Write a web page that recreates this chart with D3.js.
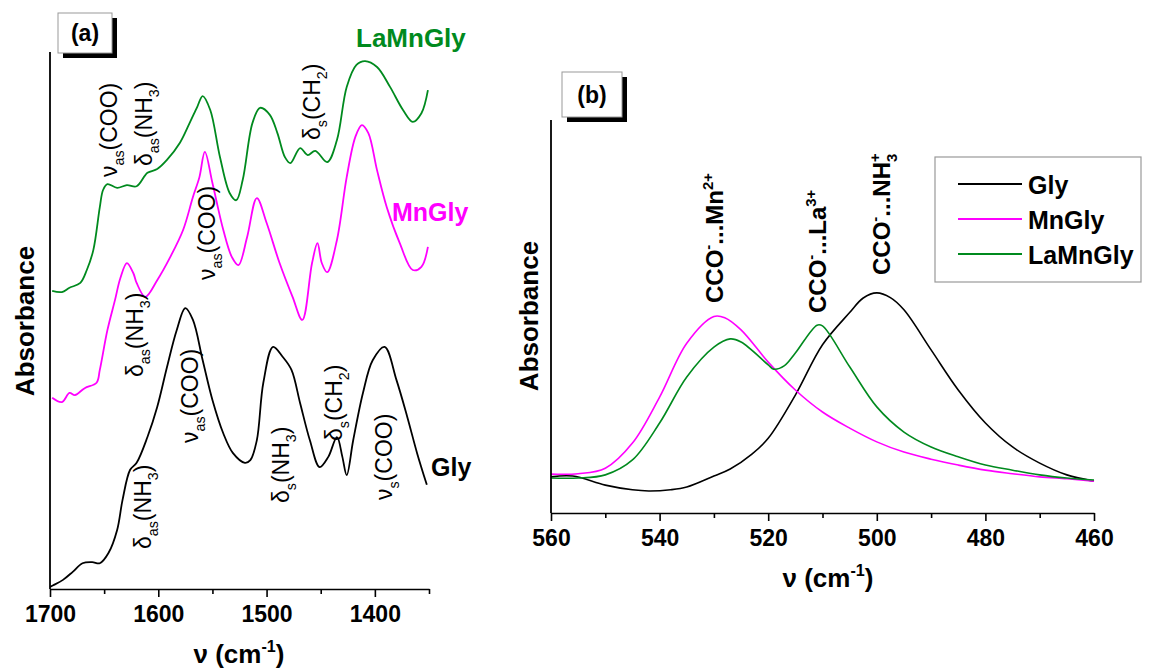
<!DOCTYPE html>
<html><head><meta charset="utf-8">
<script src="https://cdn.jsdelivr.net/npm/d3@7"></script>
<style>
html,body{margin:0;padding:0;background:#fff;}
svg{display:block;font-family:'Liberation Sans',Arial,Helvetica,sans-serif;}
</style></head>
<body>
<svg id="c" width="1153" height="669"></svg>
<script>
// ---------- Panel (a) data: FTIR 1700-1350 cm-1 (offset stacked, a.u.) ----------
const glyWaveA = [1700,1697,1688,1679,1670,1661,1654,1646,1638,1633,1626,1620,1610,1601,1592,1583,1575,1568,1559,1550,1540,1531,1520,1515,1509,1503,1494,1485,1477,1469,1460,1451,1443,1435,1430,1426,1420,1411,1402,1391,1380,1370,1361,1352];
const glyAbsA  = [0.004,0.007,0.017,0.032,0.048,0.050,0.048,0.067,0.110,0.166,0.222,0.235,0.283,0.339,0.413,0.482,0.523,0.501,0.426,0.352,0.290,0.253,0.235,0.240,0.277,0.384,0.451,0.432,0.408,0.346,0.277,0.227,0.246,0.283,0.246,0.212,0.277,0.365,0.426,0.451,0.389,0.320,0.253,0.194];

const mnWaveA = [1698,1689,1682,1677,1668,1657,1654,1647,1640,1635,1629,1623,1620,1612,1601,1589,1577,1568,1562,1557,1550,1540,1532,1526,1518,1509,1500,1488,1476,1467,1458,1453,1449,1444,1435,1426,1418,1412,1406,1398,1389,1377,1365,1357,1351];
const mnAbsA  = [0.356,0.348,0.365,0.361,0.374,0.384,0.408,0.482,0.538,0.579,0.607,0.588,0.570,0.544,0.575,0.618,0.669,0.730,0.767,0.814,0.756,0.669,0.618,0.603,0.655,0.728,0.682,0.607,0.544,0.501,0.607,0.644,0.607,0.590,0.650,0.767,0.842,0.864,0.849,0.780,0.711,0.644,0.594,0.600,0.637];

const laWaveA = [1698,1689,1682,1672,1666,1660,1654,1651,1647,1638,1629,1620,1610,1601,1592,1580,1571,1564,1559,1552,1543,1534,1528,1522,1513,1506,1497,1490,1483,1478,1469,1462,1455,1444,1435,1426,1417,1409,1398,1386,1374,1365,1357,1351];
const laAbsA  = [0.555,0.553,0.561,0.570,0.594,0.631,0.711,0.743,0.754,0.747,0.752,0.750,0.775,0.782,0.799,0.831,0.868,0.898,0.918,0.892,0.804,0.737,0.724,0.762,0.868,0.896,0.883,0.849,0.804,0.793,0.821,0.808,0.816,0.795,0.836,0.935,0.976,0.983,0.972,0.935,0.892,0.870,0.886,0.929];

const ticksA = [1700,1600,1500,1400];
const minorTicksA = [1650,1550,1450,1350];

// ---------- Panel (b) data: 560-460 cm-1 ----------
const glyWaveB = [560,556,550,545,542,538,535,530,527,523,520,515,510,505,502.5,500,497.5,495,490,485,480,475,470,465,460];
const glyAbsB  = [0.092,0.094,0.071,0.059,0.056,0.059,0.066,0.094,0.112,0.150,0.190,0.300,0.428,0.510,0.547,0.560,0.548,0.517,0.415,0.313,0.229,0.168,0.127,0.097,0.081];

const mnWaveB = [560,555,550,545,540,535,530,528,525,520,515,510,505,500,495,490,485,480,475,470,465,460];
const mnAbsB  = [0.099,0.100,0.114,0.178,0.295,0.432,0.500,0.497,0.466,0.384,0.313,0.257,0.216,0.181,0.155,0.137,0.122,0.109,0.100,0.092,0.087,0.081];

const laWaveB = [560,555,550,545,540,535,530,527,525,520,519,517,515,511,510,505,500,495,490,485,480,475,470,465,460];
const laAbsB  = [0.089,0.089,0.097,0.135,0.229,0.346,0.422,0.443,0.435,0.377,0.366,0.375,0.407,0.478,0.476,0.372,0.270,0.206,0.168,0.143,0.122,0.109,0.097,0.089,0.084];

const ticksB = [560,540,520,500,480,460];
const minorTicksB = [550,530,510,490,470];

const seriesNames = ["Gly","MnGly","LaMnGly"];
const seriesColors = ["#000000","#ff00ff","#008a1e"];

// ---------- drawing ----------
const svg = d3.select("#c");
const FF = "'Liberation Sans',Arial,Helvetica,sans-serif";

function rich(sel, parts, fs){
  let cur = 0;
  parts.forEach(p=>{
    const txt=p[0], kind=p[1]||"", dx=p[2]||0;
    const target = kind==="sub" ? 0.30*fs : kind==="sup" ? -0.42*fs : 0;
    const t = sel.append("tspan").text(txt).attr("dy", target-cur);
    if(kind) t.attr("font-size", fs*0.62);
    if(dx) t.attr("dx", dx*fs);
    cur = target;
  });
}
function vlabel(g, x, y, parts, fs, weight, color){
  const t = g.append("text")
    .attr("transform",`translate(${x},${y}) rotate(-90)`)
    .attr("font-size",fs).attr("font-weight",weight||"normal")
    .attr("fill",color||"#000");
  rich(t, parts, fs);
  return t;
}
function panelTag(g, x, y, w, h, label){
  g.append("rect").attr("x",x+5).attr("y",y+5).attr("width",w).attr("height",h).attr("fill","#000");
  g.append("rect").attr("x",x).attr("y",y).attr("width",w).attr("height",h).attr("fill","#fff").attr("stroke","#999").attr("stroke-width",1);
  g.append("text").attr("x",x+w/2).attr("y",y+h/2+8).attr("text-anchor","middle")
    .attr("font-size",23).attr("font-weight","bold").text(label);
}
function xAxis(g, scale, y, major, minor){
  const ax = g.append("g").attr("transform",`translate(0,${y})`)
    .call(d3.axisBottom(scale).tickValues(major).tickSize(8).tickSizeOuter(0).tickPadding(8).tickFormat(d3.format("d")));
  ax.select(".domain").attr("stroke-width",1.6);
  ax.selectAll(".tick line").attr("stroke-width",1.6);
  ax.selectAll(".tick text").attr("font-size",23).attr("font-weight","bold").attr("font-family",FF).attr("dy","0.75em");
  const mx = g.append("g").attr("transform",`translate(0,${y})`)
    .call(d3.axisBottom(scale).tickValues(minor).tickSize(5).tickSizeOuter(0).tickFormat(""));
  mx.select(".domain").remove();
  mx.selectAll(".tick line").attr("stroke-width",1.6);
}
function yAxisLine(g, x, y0, y1){
  g.append("line").attr("x1",x).attr("x2",x).attr("y1",y0).attr("y2",y1).attr("stroke","#000").attr("stroke-width",1.8);
}
function axisTitleNu(g, cx, y){
  const t = g.append("text").attr("x",cx).attr("y",y).attr("text-anchor","middle")
    .attr("font-size",26).attr("font-weight","bold");
  rich(t, [["ν (cm"],["-1","sup"],[")"]], 26);
}

// ===== Panel (a) =====
const gA = svg.append("g");
const xA = d3.scaleLinear().domain([1700,1350]).range([50,429]);
const yA = d3.scaleLinear().domain([0,1]).range([589,52]);
const lineA = d3.line().curve(d3.curveCatmullRom.alpha(0.5));

const dataA = [[glyWaveA,glyAbsA],[mnWaveA,mnAbsA],[laWaveA,laAbsA]];
dataA.forEach((d,i)=>{
  gA.append("path").attr("fill","none").attr("stroke",seriesColors[i]).attr("stroke-width",1.8)
    .attr("stroke-linejoin","round")
    .attr("d", lineA(d[0].map((w,k)=>[xA(w), yA(d[1][k])])));
});
yAxisLine(gA, 50, 52, 589);
xAxis(gA, xA, 589, ticksA, minorTicksA);
axisTitleNu(gA, 239, 663);
gA.append("text").attr("transform","translate(34,321) rotate(-90)").attr("text-anchor","middle")
  .attr("font-size",26).attr("font-weight","bold").text("Absorbance");
panelTag(gA, 58, 13, 54, 40, "(a)");

// series names
gA.append("text").attr("x",356).attr("y",47).attr("font-size",26).attr("font-weight","bold").attr("fill",seriesColors[2]).text(seriesNames[2]);
gA.append("text").attr("x",392).attr("y",221).attr("font-size",25).attr("font-weight","bold").attr("fill",seriesColors[1]).text(seriesNames[1]);
gA.append("text").attr("x",431).attr("y",476).attr("font-size",25).attr("font-weight","bold").attr("fill",seriesColors[0]).text(seriesNames[0]);

// band annotations (rotated)
const fsA = 23;
vlabel(gA, 117, 177, [["ν"],["as","sub"],["(COO)"]], fsA);
vlabel(gA, 152, 166, [["δ"],["as","sub"],["(NH"],["3","sub"],[")"]], fsA);
vlabel(gA, 320, 140, [["δ"],["s","sub"],["(CH"],["2","sub"],[")"]], fsA);
vlabel(gA, 215, 280, [["ν"],["as","sub"],["(COO)"]], fsA);
vlabel(gA, 143, 377, [["δ"],["as","sub"],["(NH"],["3","sub"],[")"]], fsA);
vlabel(gA, 198, 443, [["ν"],["as","sub"],["(COO)"]], fsA);
vlabel(gA, 151, 549, [["δ"],["as","sub"],["(NH"],["3","sub"],[")"]], fsA);
vlabel(gA, 289, 503, [["δ"],["s","sub"],["(NH"],["3","sub"],[")"]], fsA);
vlabel(gA, 342, 441, [["δ"],["s","sub"],["(CH"],["2","sub"],[")"]], fsA);
vlabel(gA, 392, 500, [["ν"],["s","sub"],["(COO)"]], fsA);

// ===== Panel (b) =====
const gB = svg.append("g");
const xB = d3.scaleLinear().domain([560,460]).range([551,1094]);
const yB = d3.scaleLinear().domain([0,1]).range([513,120]);
const lineB = d3.line().curve(d3.curveCatmullRom.alpha(0.5));
const dataB = [[glyWaveB,glyAbsB],[mnWaveB,mnAbsB],[laWaveB,laAbsB]];
dataB.forEach((d,i)=>{
  gB.append("path").attr("fill","none").attr("stroke",seriesColors[i]).attr("stroke-width",1.6)
    .attr("d", lineB(d[0].map((w,k)=>[xB(w), yB(d[1][k])])));
});
yAxisLine(gB, 551, 120, 513);
xAxis(gB, xB, 513, ticksB, minorTicksB);
axisTitleNu(gB, 828, 587);
gB.append("text").attr("transform","translate(538,316) rotate(-90)").attr("text-anchor","middle")
  .attr("font-size",26).attr("font-weight","bold").text("Absorbance");
panelTag(gB, 562, 72, 60, 45, "(b)");

const fsB = 24;
vlabel(gB, 723, 303, [["CCO"],["-","sup"],["...Mn"],["2+","sup"]], fsB, "bold");
vlabel(gB, 826, 313, [["CCO"],["-","sup"],["...La"],["3+","sup"]], fsB, "bold");
vlabel(gB, 890, 275, [["CCO"],["-","sup"],["...NH"],["+","sup"],["3","sub",-0.36]], fsB, "bold");

// legend
const lg = gB.append("g");
lg.append("rect").attr("x",935).attr("y",157).attr("width",206).attr("height",125)
  .attr("fill","#fff").attr("stroke","#999").attr("stroke-width",1.2);
const legY = [184,219,254];
seriesNames.forEach((n,i)=>{
  lg.append("line").attr("x1",958).attr("x2",1022).attr("y1",legY[i]).attr("y2",legY[i])
    .attr("stroke",seriesColors[i]).attr("stroke-width",1.8);
  lg.append("text").attr("x",1028).attr("y",legY[i]+10).attr("font-size",25).attr("font-weight","bold").text(n);
});
</script>
</body></html>
